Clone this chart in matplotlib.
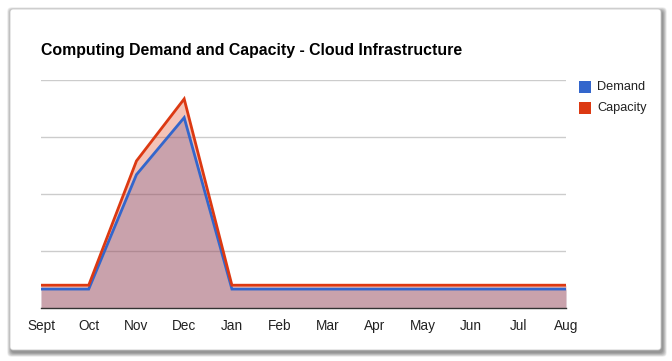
import matplotlib
from matplotlib import pyplot as plt
from matplotlib.patches import FancyBboxPatch, Rectangle

matplotlib.rc("font", family=["Liberation Sans", "DejaVu Sans"])

months = ["Sept", "Oct", "Nov", "Dec", "Jan", "Feb", "Mar", "Apr", "May", "Jun", "Jul", "Aug"]
demand = [8.3, 8.3, 58.5, 83.5, 8.3, 8.3, 8.3, 8.3, 8.3, 8.3, 8.3, 8.3]
capacity = [10, 10, 64.5, 91.7, 10, 10, 10, 10, 10, 10, 10, 10]
series_names = ["Demand", "Capacity"]
colors = ["#3366CC", "#DC3912"]

W, H = 672, 361
fig = plt.figure(figsize=(W / 100, H / 100), dpi=100)
fig.patch.set_facecolor("white")

# card with soft shadow
bg = fig.add_axes([0, 0, 1, 1])
bg.set_xlim(0, W)
bg.set_ylim(H, 0)
bg.axis("off")
for i in range(7, 0, -1):
    bg.add_patch(FancyBboxPatch((10 - i * 0.6 + 1.5, 9 - i * 0.6 + 2.5), 651 + i * 1.2, 341 + i * 1.2,
                                boxstyle="round,pad=0,rounding_size=4",
                                facecolor="black", edgecolor="none", alpha=0.07))
bg.add_patch(FancyBboxPatch((10, 9), 651, 341, boxstyle="round,pad=0,rounding_size=3",
                            facecolor="white", edgecolor="#c8c8c8", linewidth=0.6))

bg.text(41, 50, "Computing Demand and Capacity - Cloud Infrastructure",
        fontsize=11.4, fontweight="bold", color="black", ha="left", va="center")

# legend
for k, (name, c) in enumerate(zip(series_names, colors)):
    y = 87 + k * 21
    bg.add_patch(Rectangle((579, y - 6), 12, 12, facecolor=c, edgecolor="none"))
    bg.text(597, y, name, fontsize=9.2, color="#222222", ha="left", va="center")

# plot area: x 41..566, y 80..308
ax = fig.add_axes([41 / W, 1 - 308 / H, (566 - 41) / W, (308 - 80) / H])
ax.patch.set_alpha(0)
x = list(range(len(months)))
ax.fill_between(x, demand, color=colors[0], alpha=0.3, linewidth=0, zorder=2)
ax.fill_between(x, capacity, color=colors[1], alpha=0.3, linewidth=0, zorder=3)
ax.plot(x, demand, color=colors[0], linewidth=2, zorder=4, solid_joinstyle="miter")
ax.plot(x, capacity, color=colors[1], linewidth=2, zorder=5, solid_joinstyle="miter")

ax.set_xlim(0, len(months) - 1)
ax.set_ylim(0, 100)
ax.set_yticks([25, 50, 75, 100])
ax.yaxis.grid(True, color="#cccccc", linewidth=1, zorder=1)
ax.set_axisbelow(True)
ax.tick_params(axis="y", left=False, labelleft=False)
ax.set_xticks(x)
ax.set_xticklabels(months, fontsize=9.8, color="#222222")
ax.tick_params(axis="x", length=0, pad=8)
for s in ["top", "right", "left"]:
    ax.spines[s].set_visible(False)
ax.spines["bottom"].set_color("#333333")
ax.spines["bottom"].set_linewidth(1)
ax.spines["bottom"].set_zorder(6)

plt.savefig("out.png", dpi=100)
